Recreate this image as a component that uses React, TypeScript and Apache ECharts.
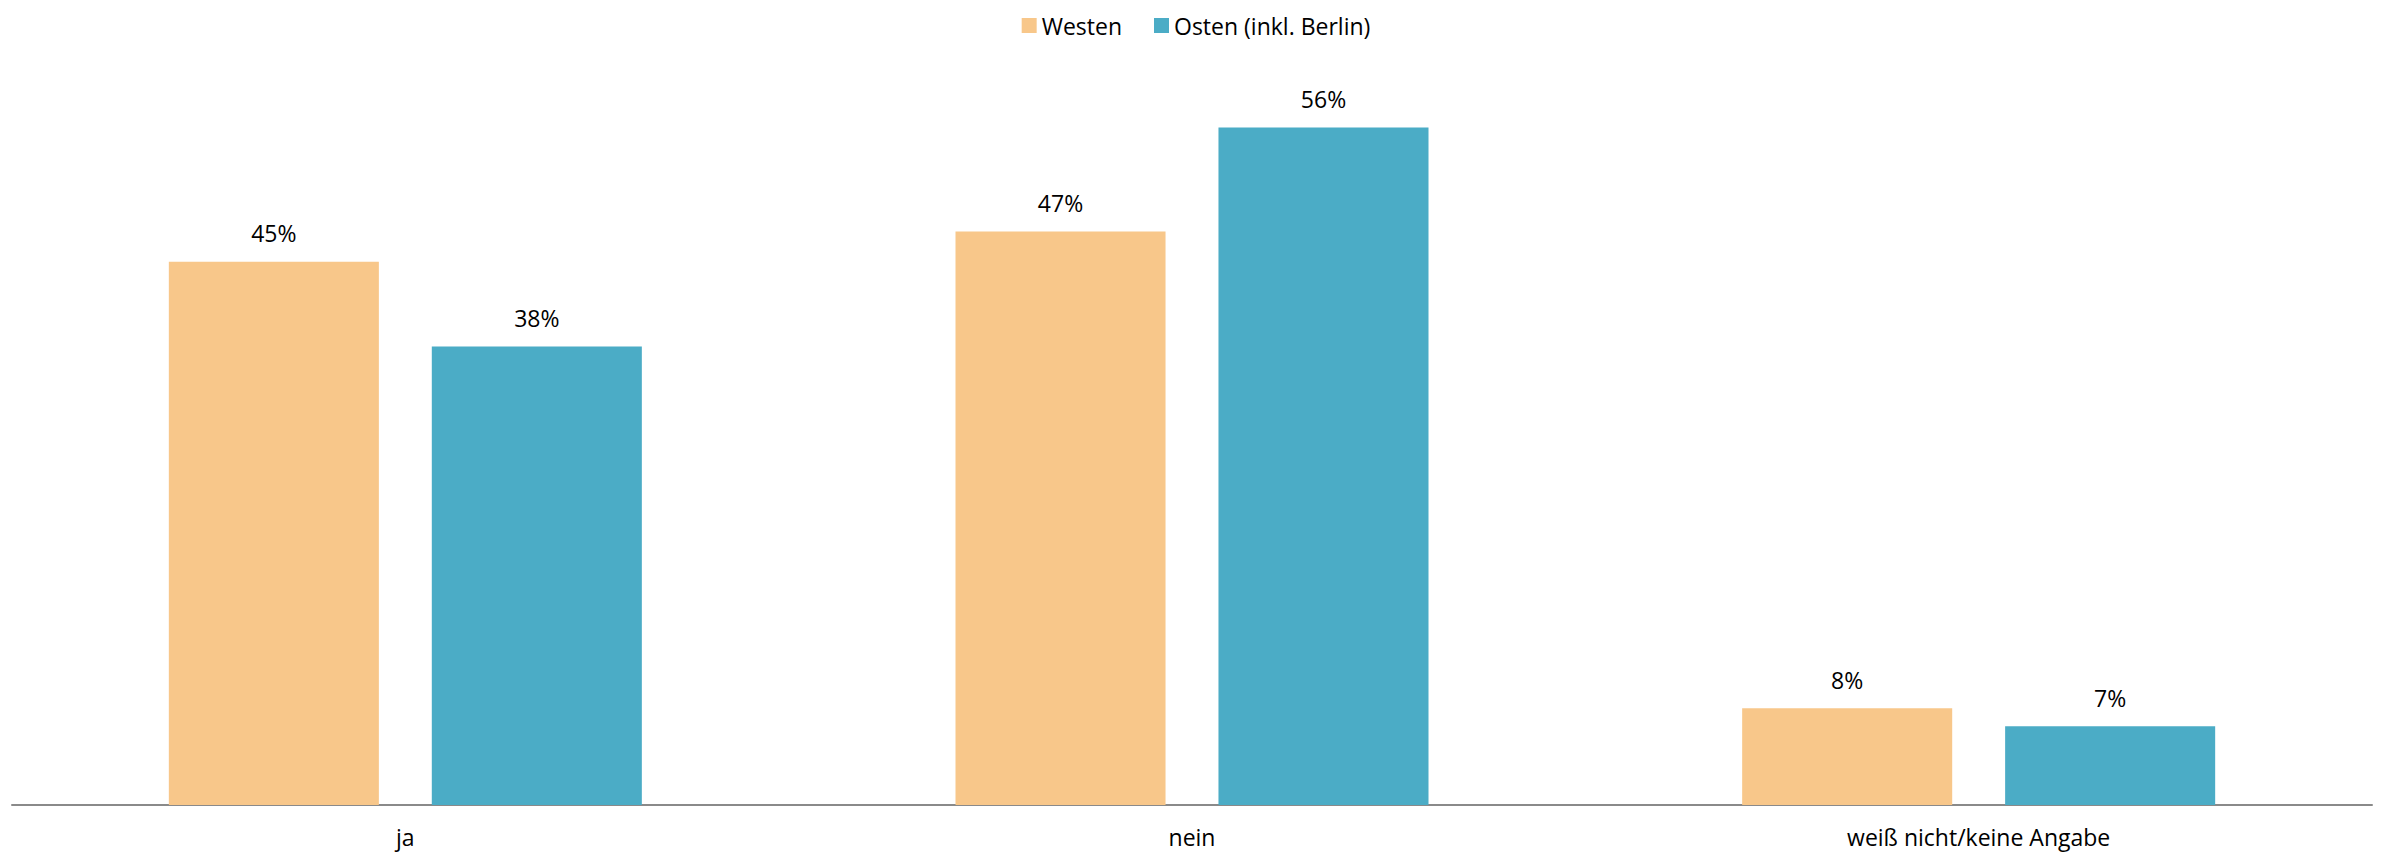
import React, { useEffect, useRef } from "react";
import * as echarts from "echarts";

const categories = ["ja", "nein", "weiß nicht/keine Angabe"];
const seriesNames = ["Westen", "Osten (inkl. Berlin)"];
const westen = [44.9, 47.4, 8.0];
const osten = [37.9, 56.0, 6.5];

export default function App() {
  const ref = useRef<HTMLDivElement>(null);
  useEffect(() => {
    document.body.style.margin = "0";
    const chart = echarts.init(ref.current!, null, { renderer: "svg" });
    const font = "'Open Sans', 'Noto Sans', sans-serif";
    const label = {
      show: true,
      position: "top",
      distance: 17,
      formatter: (p: any) => Math.round(p.value) + "%",
      fontSize: 23,
      color: "#000",
      fontFamily: font,
    };
    chart.setOption({
      animation: false,
      backgroundColor: "#fff",
      legend: {
        top: 9,
        left: "center",
        itemWidth: 15,
        itemHeight: 15,
        itemGap: 32,
        icon: "rect",
        textStyle: { fontSize: 23, color: "#000", fontFamily: font },
        data: seriesNames,
      },
      grid: { left: 12, right: 20, top: 79, bottom: 49 },
      xAxis: {
        type: "category",
        data: categories,
        axisLine: { lineStyle: { color: "#8a8a8a", width: 2 } },
        axisTick: { show: false },
        axisLabel: { fontSize: 23, color: "#000", fontFamily: font, margin: 20 },
      },
      yAxis: { type: "value", min: 0, max: 60, show: false, splitLine: { show: false } },
      series: [
        {
          name: seriesNames[0],
          type: "bar",
          data: westen,
          barWidth: "26.7%",
          barGap: "25.2%",
          itemStyle: { color: "#F8C78A" },
          label,
        },
        {
          name: seriesNames[1],
          type: "bar",
          data: osten,
          barWidth: "26.7%",
          itemStyle: { color: "#4BACC6" },
          label,
        },
      ],
    });
    return () => chart.dispose();
  }, []);
  return <div ref={ref} style={{ width: 2392, height: 854 }} />;
}
